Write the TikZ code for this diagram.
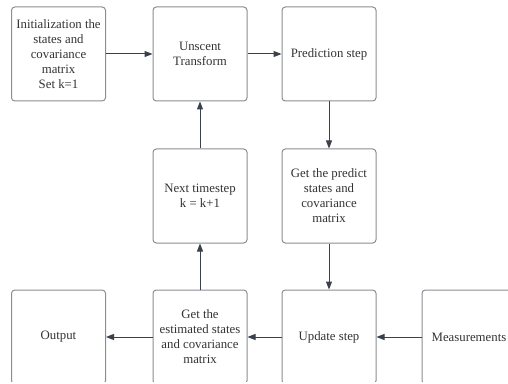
\documentclass[tikz,border=0pt]{standalone}
\usepackage{fontspec}
\setmainfont{Liberation Serif}
\usetikzlibrary{arrows.meta}
\definecolor{boxgray}{HTML}{8A8D91}
\definecolor{linedark}{HTML}{3A414A}
\definecolor{textdark}{HTML}{333333}
\tikzset{
  step box/.style={draw=boxgray, line width=0.75pt, rounded corners=2.5pt, fill=white,
    minimum width=70.5pt, minimum height=70.5pt, inner sep=2pt, align=center,
    text=textdark, font=\fontsize{9.6}{11.3}\selectfont},
  flow line/.style={line width=0.75pt, draw=linedark, -{Triangle[length=6pt,width=4.5pt]}},
}

\begin{document}
\begin{tikzpicture}[x=0.75pt, y=0.75pt]
  \useasboundingbox (0,0) rectangle (508,383);
  \clip (0,1.5) rectangle (508,383);
  % top row
  \node[step box] (init) at (58.5,329) {Initialization the\\states and\\covariance\\matrix\\Set k=1};
  \node[step box] (unscent) at (200,329) {Unscent\\Transform};
  \node[step box] (predict) at (329,329) {Prediction step};
  % middle row
  \node[step box] (nextstep) at (200,187) {Next timestep\\k = k+1};
  \node[step box] (getpred) at (329,187) {Get the predict\\states and\\covariance\\matrix};
  % bottom row (cut off at the page edge)
  \node[step box] (output) at (58.5,46) {Output};
  \node[step box] (getest) at (200,46) {Get the\\estimated states\\and covariance\\matrix};
  \node[step box] (update) at (329,46) {Update step};
  \node[step box] (meas) at (469,46) {Measurements};
  % connectors
  \draw[flow line] (init) -- (unscent);
  \draw[flow line] (unscent) -- (predict);
  \draw[flow line] (predict) -- (getpred);
  \draw[flow line] (getpred) -- (update);
  \draw[flow line] (meas) -- (update);
  \draw[flow line] (update) -- (getest);
  \draw[flow line] (getest) -- (output);
  \draw[flow line] (getest) -- (nextstep);
  \draw[flow line] (nextstep) -- (unscent);
\end{tikzpicture}
\end{document}
